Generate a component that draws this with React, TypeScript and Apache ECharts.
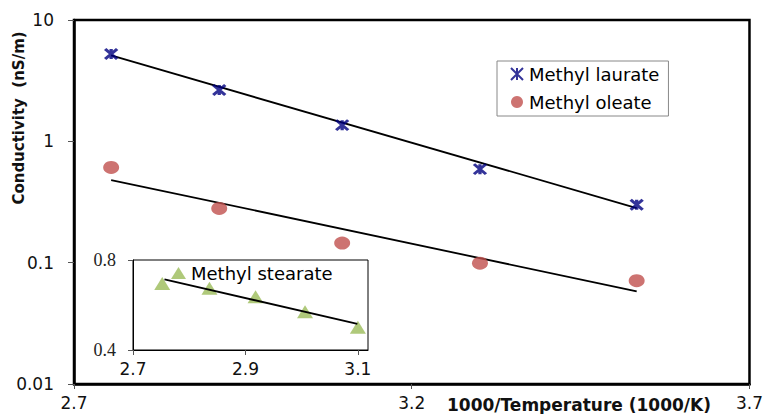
import React, { useEffect, useRef } from "react";
import * as echarts from "echarts";

// ---- data ----
const xTicksMain = [2.7, 3.2, 3.7];
const laurateX = [2.755, 2.915, 3.097, 3.301, 3.533];
const laurateY = [5.25, 2.65, 1.36, 0.59, 0.3];
const oleateX = [2.755, 2.915, 3.097, 3.301, 3.533];
const oleateY = [0.61, 0.28, 0.145, 0.099, 0.071];
const laurateFitX = [2.755, 3.533];
const laurateFitY = [5.1, 0.282];
const oleateFitX = [2.755, 3.533];
const oleateFitY = [0.48, 0.058];

const xTicksInset = [2.7, 2.9, 3.1];
const yTicksInset = [0.4, 0.8];
const stearateX = [2.752, 2.836, 2.918, 3.006, 3.1];
const stearateY = [0.696, 0.674, 0.637, 0.57, 0.501];
const stearateFitX = [2.756, 3.099];
const stearateFitY = [0.714, 0.516];

const zip = (xs: number[], ys: number[]) => xs.map((x, i) => [x, ys[i]]);

const SANS = "DejaVu Sans";
const ASTERISK = "path://M0,0L10,10M10,0L0,10M5,0L5,10";

export default function App() {
  const ref = useRef<HTMLDivElement>(null);
  useEffect(() => {
    if (!ref.current) return;
    const chart = echarts.init(ref.current, null, { renderer: "svg" });
    const labelStyle = { fontFamily: SANS, fontSize: 17, color: "#111" };
    chart.setOption({
      animation: false,
      backgroundColor: "#fff",
      grid: [
        {
          left: 74, top: 20, right: 15, bottom: 30,
          show: true, borderColor: "#000", borderWidth: 2.5, backgroundColor: "transparent",
        },
        {
          left: 133, top: 260, width: 235, height: 90,
          show: true, borderColor: "#000", borderWidth: 1, backgroundColor: "#fff", z: 5,
        },
      ],
      xAxis: [
        {
          type: "value", gridIndex: 0, min: 2.7, max: 3.7,
          splitLine: { show: false },
          axisLine: { show: true, lineStyle: { color: "#000", width: 2.5 } },
          axisTick: { show: true, customValues: xTicksMain, length: 5, lineStyle: { color: "#555", width: 1 } },
          axisLabel: { customValues: xTicksMain, margin: 10, ...labelStyle },
        },
        {
          type: "value", gridIndex: 1, min: 2.7, max: 3.118,
          splitLine: { show: false },
          axisLine: { show: true, lineStyle: { color: "#000", width: 1 } },
          axisTick: { show: true, customValues: xTicksInset, length: 5, lineStyle: { color: "#555", width: 1 } },
          axisLabel: { customValues: xTicksInset, margin: 10, ...labelStyle },
          z: 6,
        },
      ],
      yAxis: [
        {
          type: "log", logBase: 10, gridIndex: 0, min: 0.01, max: 10,
          splitLine: { show: false },
          minorTick: { show: false },
          axisLine: { show: true, lineStyle: { color: "#000", width: 2.5 } },
          axisTick: { show: true, length: 6, lineStyle: { color: "#555", width: 1 } },
          axisLabel: { margin: 20, ...labelStyle },
        },
        {
          type: "value", gridIndex: 1, min: 0.4, max: 0.8,
          splitLine: { show: false },
          axisLine: { show: true, lineStyle: { color: "#000", width: 1 } },
          axisTick: { show: true, customValues: yTicksInset, length: 5, lineStyle: { color: "#555", width: 1 } },
          axisLabel: {
            customValues: yTicksInset, margin: 17,
            fontFamily: "Liberation Serif", fontSize: 18, color: "#222",
            formatter: (v: number) => v.toFixed(1),
          },
          z: 6,
        },
      ],
      legend: [
        {
          data: ["Methyl laurate", "Methyl oleate"],
          orient: "vertical", left: 497, top: 61,
          padding: [3, 9, 4, 13], itemGap: 8,
          itemWidth: 14, itemHeight: 12,
          borderColor: "#888", borderWidth: 1, backgroundColor: "#fff",
          textStyle: { fontFamily: SANS, fontSize: 18, color: "#000", lineHeight: 20 },
          z: 10,
        },
        {
          data: ["Methyl stearate"],
          orient: "vertical", left: 171, top: 263, padding: 0,
          itemWidth: 15, itemHeight: 12,
          textStyle: { fontFamily: SANS, fontSize: 18, color: "#000", lineHeight: 20 },
          z: 10,
        },
      ],
      series: [
        {
          name: "laurate fit", type: "line", xAxisIndex: 0, yAxisIndex: 0,
          data: zip(laurateFitX, laurateFitY), showSymbol: false, symbol: "none",
          lineStyle: { color: "#000", width: 1.8 }, z: 2,
        },
        {
          name: "oleate fit", type: "line", xAxisIndex: 0, yAxisIndex: 0,
          data: zip(oleateFitX, oleateFitY), showSymbol: false, symbol: "none",
          lineStyle: { color: "#000", width: 1.8 }, z: 2,
        },
        {
          name: "Methyl laurate", type: "scatter", xAxisIndex: 0, yAxisIndex: 0,
          data: zip(laurateX, laurateY), symbol: ASTERISK, symbolSize: [12, 10],
          itemStyle: { color: "#000080", borderColor: "#000080", borderWidth: 3 }, z: 3,
        },
        {
          name: "Methyl oleate", type: "scatter", xAxisIndex: 0, yAxisIndex: 0,
          data: zip(oleateX, oleateY), symbol: "circle", symbolSize: [16, 13],
          itemStyle: { color: "#c0504d" }, z: 3,
        },
        {
          name: "stearate fit", type: "line", xAxisIndex: 1, yAxisIndex: 1,
          data: zip(stearateFitX, stearateFitY), showSymbol: false, symbol: "none",
          lineStyle: { color: "#000", width: 1.8 }, z: 7,
        },
        {
          name: "Methyl stearate", type: "scatter", xAxisIndex: 1, yAxisIndex: 1,
          data: zip(stearateX, stearateY), symbol: "triangle", symbolSize: [16, 13],
          itemStyle: { color: "#9bbb59" }, z: 6,
        },
      ],
      graphic: [
        {
          type: "text", x: 19, y: 118, rotation: Math.PI / 2,
          style: {
            text: "Conductivity  (nS/m)", fontFamily: SANS, fontWeight: "bold", fontSize: 15,
            fill: "#111", textAlign: "center", textVerticalAlign: "middle",
          },
        },
        {
          type: "text", x: 447, y: 405,
          style: {
            text: "1000/Temperature (1000/K)", fontFamily: SANS, fontWeight: "bold", fontSize: 17,
            fill: "#111", textAlign: "left", textVerticalAlign: "middle",
          },
        },
      ],
    });
    return () => chart.dispose();
  }, []);
  return (
    <div
      ref={ref}
      style={{ position: "absolute", left: 0, top: 0, width: 766, height: 414 }}
    />
  );
}
